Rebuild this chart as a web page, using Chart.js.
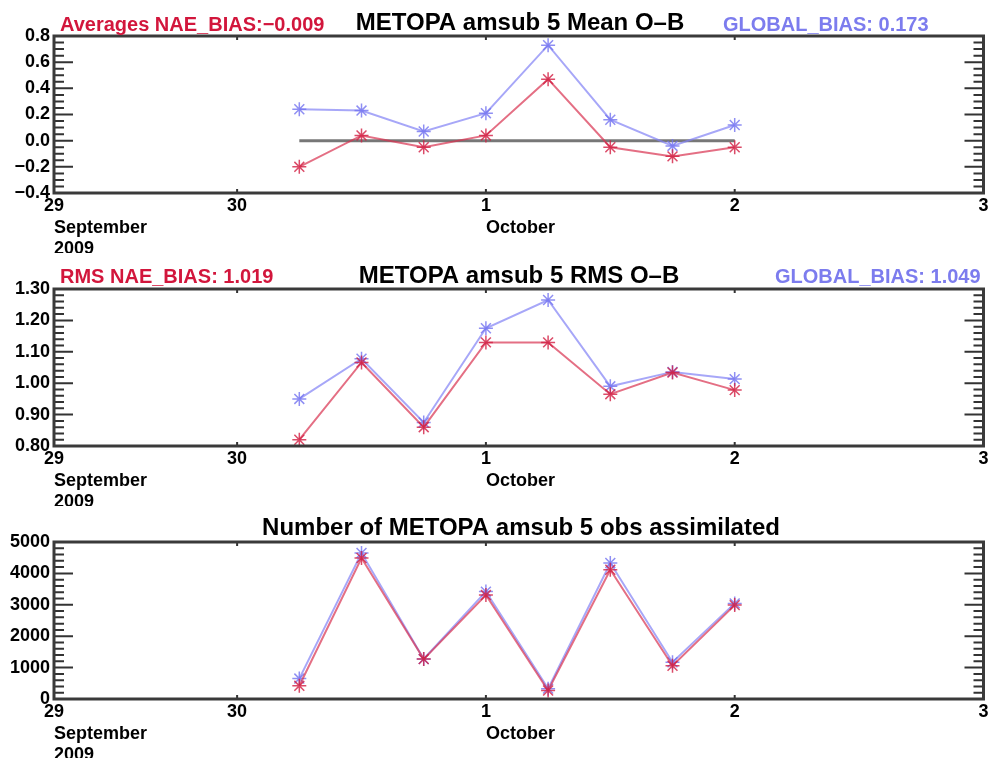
<!DOCTYPE html>
<html>
<head>
<meta charset="utf-8">
<script src="https://cdn.jsdelivr.net/npm/chart.js@4.4.0/dist/chart.umd.min.js"></script>
<style>
    html, body { margin: 0; padding: 0; background: #fff; overflow: hidden; }
    body { width: 992px; height: 758px; position: relative; }
    .panel { position: absolute; left: 0; width: 992px; height: 262px; }
</style>
</head>
<body>
<div class="panel" style="top:0"><canvas id="meanChart"></canvas></div>
<div class="panel" style="top:253px"><canvas id="rmsChart"></canvas></div>
<div class="panel" style="top:506px"><canvas id="countChart"></canvas></div>
<script>
// analysis times in days after 29 Sep 2009 00Z (6-hourly cycles)
const obsTimes = [1.25, 1.5, 1.75, 2.0, 2.25, 2.5, 2.75, 3.0];

const naeMean = [-0.20, 0.04, -0.05, 0.04, 0.47, -0.05, -0.12, -0.05];
const globalMean = [0.24, 0.23, 0.07, 0.21, 0.73, 0.16, -0.04, 0.12];

const naeRms = [0.82, 1.066, 0.86, 1.13, 1.13, 0.965, 1.034, 0.978];
const globalRms = [0.95, 1.078, 0.875, 1.175, 1.265, 0.99, 1.036, 1.013];

const naeCount = [420, 4490, 1270, 3310, 270, 4115, 1060, 2990];
const globalCount = [650, 4650, 1275, 3420, 330, 4330, 1170, 3045];

const dayTicks = [0.264, 1, 2, 3, 4];
const dayLabels = ['29', '30', '1', '2', '3'];
const monthTicks = [0.264, 2];
const monthLabels = [['September', '2009'], ['October', '']];

const FONT = '"Liberation Sans", Arial, Helvetica, sans-serif';
const RED_LINE = 'rgba(216, 50, 80, 0.7)';
const RED_MARK = 'rgba(210, 30, 66, 0.8)';
const BLUE_LINE = 'rgba(130, 130, 245, 0.7)';
const BLUE_MARK = 'rgba(115, 115, 240, 0.8)';

function pairs(values) {
    return obsTimes.map((t, i) => ({ x: t, y: values[i] }));
}

function minus(s) {
    return String(s).replace('-', '\u2212');
}

// frame, inward tick marks and the panel texts
const panelDecor = {
    id: 'panelDecor',
    afterDraw(chart, args, o) {
        const { ctx, chartArea: a, scales } = chart;
        const y = scales.y;
        const x = scales.x;
        ctx.save();
        ctx.strokeStyle = '#333';
        ctx.lineWidth = 2;
        ctx.beginPath();
        const n = Math.round((o.yMax - o.yMin) / o.minor);
        for (let i = 0; i <= n; i++) {
            const py = y.getPixelForValue(o.yMin + i * o.minor);
            ctx.moveTo(a.left, py); ctx.lineTo(a.left + 10, py);
            ctx.moveTo(a.right - 10, py); ctx.lineTo(a.right, py);
        }
        y.ticks.forEach(t => {
            const py = y.getPixelForValue(t.value);
            ctx.moveTo(a.left, py); ctx.lineTo(a.left + 19, py);
            ctx.moveTo(a.right - 19, py); ctx.lineTo(a.right, py);
        });
        x.ticks.slice(1, -1).forEach(t => {
            const px = x.getPixelForValue(t.value);
            ctx.moveTo(px, a.top); ctx.lineTo(px, a.top + 4);
            ctx.moveTo(px, a.bottom); ctx.lineTo(px, a.bottom - 4);
        });
        ctx.stroke();

        ctx.strokeStyle = '#3a3a3a';
        ctx.lineWidth = 3;
        ctx.strokeRect(a.left, a.top, a.right - a.left, a.bottom - a.top);

        ctx.textBaseline = 'alphabetic';
        ctx.font = `bold 24px ${FONT}`;
        ctx.fillStyle = '#000';
        ctx.textAlign = 'center';
        ctx.fillText(o.title, o.titleX, o.titleY);
        if (o.naeText) {
            ctx.font = `bold 20px ${FONT}`;
            ctx.textAlign = 'left';
            ctx.fillStyle = '#d2163c';
            ctx.fillText(o.naeText, 60, o.labelY);
            ctx.fillStyle = '#7c7cee';
            ctx.fillText(o.globalText, o.globalX, o.labelY);
        }
        ctx.restore();
    }
};

function makePanel(id, cfg) {
    const tickFont = { family: FONT, size: 18, weight: 'bold' };
    const datasets = [
        {
            label: 'NAE',
            data: pairs(cfg.nae),
            borderColor: RED_LINE,
            borderWidth: 2,
            pointStyle: 'star',
            pointRadius: 7,
            pointBorderColor: RED_MARK,
            pointBorderWidth: 1.5,
            fill: false
        },
        {
            label: 'GLOBAL',
            data: pairs(cfg.glob),
            borderColor: BLUE_LINE,
            borderWidth: 2,
            pointStyle: 'star',
            pointRadius: 7,
            pointBorderColor: BLUE_MARK,
            pointBorderWidth: 1.5,
            fill: false
        }
    ];
    if (cfg.zeroLine) {
        datasets.push({
            label: 'zero',
            data: [{ x: obsTimes[0], y: 0 }, { x: obsTimes[obsTimes.length - 1], y: 0 }],
            borderColor: '#777',
            borderWidth: 3,
            pointRadius: 0
        });
    }

    return new Chart(document.getElementById(id).getContext('2d'), {
        type: 'line',
        data: { datasets: datasets },
        options: {
            responsive: true,
            maintainAspectRatio: false,
            animation: false,
            layout: { padding: { top: 36, right: 5, bottom: 9, left: 0 } },
            plugins: {
                legend: { display: false },
                tooltip: { enabled: false },
                panelDecor: cfg.decor
            },
            scales: {
                x: {
                    type: 'linear',
                    position: 'bottom',
                    weight: 0,
                    min: dayTicks[0],
                    max: dayTicks[dayTicks.length - 1],
                    grid: { display: false, drawTicks: false },
                    border: { display: false },
                    afterBuildTicks(s) { s.ticks = dayTicks.map(v => ({ value: v })); },
                    ticks: {
                        padding: 2,
                        maxRotation: 0,
                        autoSkip: false,
                        color: '#000',
                        font: tickFont,
                        callback: (v, i) => dayLabels[i]
                    },
                    afterFit(s) { s.height = 24; s.paddingLeft = 0; s.paddingRight = 0; }
                },
                xMonth: {
                    type: 'linear',
                    position: 'bottom',
                    weight: 1,
                    min: dayTicks[0],
                    max: dayTicks[dayTicks.length - 1],
                    grid: { display: false, drawTicks: false },
                    border: { display: false },
                    afterBuildTicks(s) { s.ticks = monthTicks.map(v => ({ value: v })); },
                    ticks: {
                        padding: 0,
                        align: 'start',
                        maxRotation: 0,
                        autoSkip: false,
                        color: '#000',
                        font: { family: FONT, size: 18, weight: 'bold', lineHeight: 1.2 },
                        callback: (v, i) => monthLabels[i]
                    },
                    afterFit(s) { s.height = 36; s.paddingLeft = 0; s.paddingRight = 0; }
                },
                y: {
                    position: 'left',
                    min: cfg.decor.yMin,
                    max: cfg.decor.yMax,
                    grid: { display: false, drawTicks: false },
                    border: { display: false },
                    ticks: {
                        stepSize: cfg.step,
                        padding: 4,
                        color: '#000',
                        font: tickFont,
                        callback: cfg.fmt
                    },
                    afterFit(s) { s.width = 54; s.paddingTop = 0; s.paddingBottom = 0; }
                }
            }
        },
        plugins: [panelDecor]
    });
}

makePanel('meanChart', {
    nae: naeMean,
    glob: globalMean,
    step: 0.2,
    zeroLine: true,
    fmt: v => minus(v.toFixed(1)),
    decor: {
        yMin: -0.4, yMax: 0.8, minor: 0.05,
        title: 'METOPA amsub 5 Mean O\u2013B', titleX: 520, titleY: 30,
        naeText: 'Averages NAE_BIAS:\u22120.009',
        globalText: 'GLOBAL_BIAS: 0.173', globalX: 723, labelY: 31
    }
});

makePanel('rmsChart', {
    nae: naeRms,
    glob: globalRms,
    step: 0.1,
    zeroLine: false,
    fmt: v => v.toFixed(2),
    decor: {
        yMin: 0.8, yMax: 1.3, minor: 0.02,
        title: 'METOPA amsub 5 RMS O\u2013B', titleX: 519, titleY: 30,
        naeText: 'RMS NAE_BIAS: 1.019',
        globalText: 'GLOBAL_BIAS: 1.049', globalX: 775, labelY: 30
    }
});

makePanel('countChart', {
    nae: naeCount,
    glob: globalCount,
    step: 1000,
    zeroLine: false,
    fmt: v => String(v),
    decor: {
        yMin: 0, yMax: 5000, minor: 200,
        title: 'Number of METOPA amsub 5 obs assimilated', titleX: 521, titleY: 29
    }
});
</script>
</body>
</html>
